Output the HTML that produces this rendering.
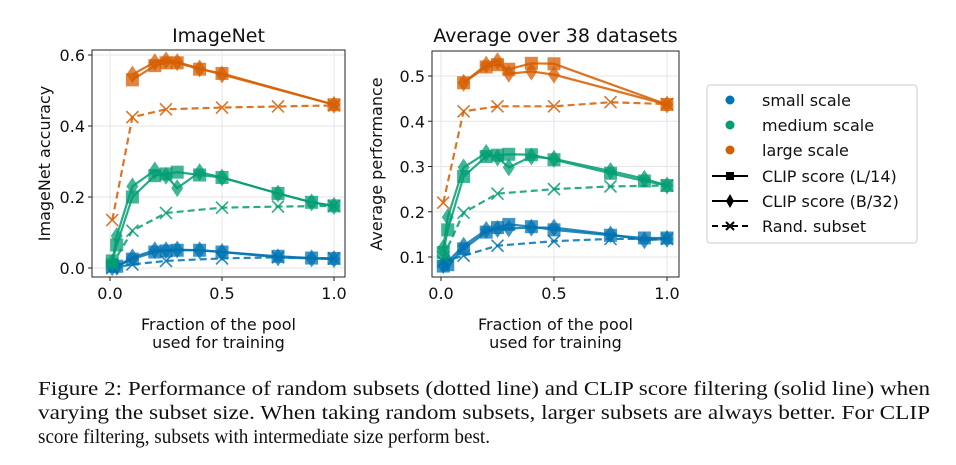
<!DOCTYPE html>
<html><head><meta charset="utf-8"><style>
body{margin:0;background:#fff;width:956px;height:460px;overflow:hidden}
svg text{font-family:"DejaVu Sans","Liberation Sans",sans-serif;fill:#111}
.cap{font-family:"Liberation Serif",serif !important;font-size:20px}
</style></head><body>
<svg id="fig" width="956" height="460" xmlns="http://www.w3.org/2000/svg">
<g id="legend">
<rect x="707" y="85" width="210" height="158" rx="3" fill="#fff" stroke="#ccc" stroke-width="1"/>
<circle cx="730" cy="100" r="4.5" fill="#0173b2"/><text x="762" y="106" font-size="16">small scale</text>
<circle cx="730" cy="125" r="4.5" fill="#029e73"/><text x="762" y="131" font-size="16">medium scale</text>
<circle cx="730" cy="150" r="4.5" fill="#d55e00"/><text x="762" y="156" font-size="16">large scale</text>
<line x1="712" y1="176" x2="748" y2="176" stroke="#000" stroke-width="2"/><rect x="726" y="172" width="8" height="8" fill="#000"/><text x="762" y="182" font-size="16">CLIP score (L/14)</text>
<line x1="712" y1="201" x2="748" y2="201" stroke="#000" stroke-width="2"/><polygon points="730,194 734,201 730,208 726,201" fill="#000"/><text x="762" y="207" font-size="16">CLIP score (B/32)</text>
<line x1="712" y1="226" x2="748" y2="226" stroke="#000" stroke-width="2" stroke-dasharray="6,4"/><path d="M726,222 L734,230 M734,222 L726,230" stroke="#000" stroke-width="2"/><text x="762" y="232" font-size="16">Rand. subset</text>
</g>
<g>
<text class="cap" x="38" y="395" textLength="892" lengthAdjust="spacingAndGlyphs">Figure 2: Performance of random subsets (dotted line) and CLIP score filtering (solid line) when</text>
<text class="cap" x="38" y="419" textLength="892" lengthAdjust="spacingAndGlyphs">varying the subset size. When taking random subsets, larger subsets are always better. For CLIP</text>
<text class="cap" x="38" y="443" textLength="452" lengthAdjust="spacingAndGlyphs">score filtering, subsets with intermediate size perform best.</text>
</g>
</svg>
<script>
const xClip=[0.01,0.03,0.1,0.2,0.25,0.3,0.4,0.5,0.75,0.9,1.0];
const xLarge=[0.1,0.2,0.25,0.3,0.4,0.5,1.0];
const xRand=[0.01,0.1,0.25,0.5,0.75,1.0];
// ImageNet
const inSmallL=[0.005,0.005,0.025,0.045,0.048,0.05,0.05,0.045,0.033,0.028,0.027];
const inSmallB=[0.002,0.004,0.03,0.05,0.05,0.052,0.05,0.045,0.03,0.027,0.025];
const inSmallR=[0.0,0.01,0.02,0.027,0.03,0.027];
const inMedL=[0.02,0.065,0.2,0.26,0.265,0.27,0.262,0.255,0.21,0.185,0.175];
const inMedB=[0.015,0.09,0.23,0.275,0.26,0.225,0.27,0.255,0.21,0.185,0.175];
const inMedR=[0.01,0.105,0.155,0.17,0.173,0.175];
const inLargeL=[0.53,0.57,0.578,0.578,0.56,0.548,0.46];
const inLargeB=[0.545,0.58,0.585,0.58,0.562,0.545,0.46];
const inLargeR=[0.135,0.425,0.447,0.452,0.455,0.458];
// Average
const avSmallL=[0.08,0.083,0.118,0.155,0.165,0.172,0.167,0.16,0.148,0.142,0.142];
const avSmallB=[0.082,0.09,0.125,0.16,0.162,0.163,0.165,0.165,0.15,0.137,0.14];
const avSmallR=[0.09,0.103,0.125,0.135,0.14,0.14];
const avMedL=[0.11,0.16,0.278,0.322,0.325,0.327,0.326,0.315,0.285,0.268,0.258];
const avMedB=[0.12,0.188,0.298,0.33,0.32,0.298,0.322,0.317,0.29,0.273,0.258];
const avMedR=[0.1,0.198,0.24,0.25,0.256,0.258];
const avLargeL=[0.485,0.52,0.525,0.515,0.528,0.527,0.437];
const avLargeB=[0.485,0.525,0.533,0.505,0.51,0.503,0.437];
const avLargeR=[0.22,0.422,0.433,0.433,0.442,0.438];
const inTicks=[0.0,0.2,0.4,0.6];
const avTicks=[0.1,0.2,0.3,0.4,0.5];
const xTicks=[0.0,0.5,1.0];

const NS="http://www.w3.org/2000/svg";
const svg=document.getElementById('fig');
const C={s:'#0173b2',m:'#029e73',l:'#d55e00'};
function el(p,t,a){const e=document.createElementNS(NS,t);for(const k in a)e.setAttribute(k,a[k]);p.appendChild(e);return e;}

function panel(cfg){
  const g=el(svg,'g',{});
  
  
  const X=v=>cfg.x0+(cfg.x1-cfg.x0)*v;
  const Y=v=>cfg.y0+(cfg.y1-cfg.y0)*(v-cfg.v0)/(cfg.v1-cfg.v0);
  xTicks.forEach(t=>el(g,'line',{x1:X(t),x2:X(t),y1:cfg.top,y2:cfg.bot,stroke:'#e6e6e6','stroke-width':1}));
  cfg.ticks.forEach(t=>el(g,'line',{x1:cfg.left,x2:cfg.right,y1:Y(t),y2:Y(t),stroke:'#e6e6e6','stroke-width':1}));
  const ser=[
    [xClip,cfg.d.sL,'s','sq',false],[xClip,cfg.d.sB,'s','di',false],[xRand,cfg.d.sR,'s','x',true],
    [xClip,cfg.d.mL,'m','sq',false],[xClip,cfg.d.mB,'m','di',false],[xRand,cfg.d.mR,'m','x',true],
    [xLarge,cfg.d.lL,'l','sq',false],[xLarge,cfg.d.lB,'l','di',false],[xRand,cfg.d.lR,'l','x',true]];
  ser.forEach(([xs,ys,c,m,dash],i)=>{
    const sg=el(g,'g',{});
    
    
    const pts=xs.map((x,j)=>X(x)+','+Y(ys[j])).join(' ');
    const pl=el(sg,'polyline',{points:pts,fill:'none',stroke:C[c],'stroke-width':2.2,'stroke-opacity':0.85});
    if(dash)pl.setAttribute('stroke-dasharray','7,4');
    xs.forEach((x,j)=>{
      const px=X(x),py=Y(ys[j]);
      let mk;
      if(m==='sq')mk=el(sg,'rect',{x:px-6.5,y:py-6.5,width:13,height:13,fill:C[c],'fill-opacity':0.75});
      else if(m==='di')mk=el(sg,'polygon',{points:`${px},${py-9} ${px+6},${py} ${px},${py+9} ${px-6},${py}`,fill:C[c],'fill-opacity':0.75});
      else mk=el(sg,'path',{d:`M${px-6},${py-6}L${px+6},${py+6}M${px+6},${py-6}L${px-6},${py+6}`,stroke:C[c],'stroke-width':1.6,'stroke-opacity':0.85});
      
      
    });
  });
  el(g,'rect',{x:cfg.left,y:cfg.top,width:cfg.right-cfg.left,height:cfg.bot-cfg.top,fill:'none',stroke:'#222','stroke-width':1});
  xTicks.forEach(t=>{
    el(g,'line',{x1:X(t),x2:X(t),y1:cfg.bot,y2:cfg.bot+4,stroke:'#222'});
    const tx=el(g,'text',{x:X(t),y:cfg.bot+22,'font-size':16,'text-anchor':'middle'});tx.textContent=t.toFixed(1);
    
    
  });
  cfg.ticks.forEach(t=>{
    el(g,'line',{x1:cfg.left-4,x2:cfg.left,y1:Y(t),y2:Y(t),stroke:'#222'});
    const tx=el(g,'text',{x:cfg.left-7,y:Y(t)+6,'font-size':16,'text-anchor':'end'});tx.textContent=t.toFixed(1);
    
    
  });
  const cx=(cfg.left+cfg.right)/2;
  const ti=el(g,'text',{x:cx,y:42,'font-size':19,'text-anchor':'middle'});ti.textContent=cfg.title;
  
  
  const l1=el(g,'text',{x:cx,y:330,'font-size':16,'text-anchor':'middle'});l1.textContent='Fraction of the pool';
  
  
  const l2=el(g,'text',{x:cx,y:348,'font-size':16,'text-anchor':'middle'});l2.textContent='used for training';
  
  
  const yl=el(g,'text',{x:0,y:0,'font-size':16,'text-anchor':'middle',transform:`translate(${cfg.ylx},${(cfg.top+cfg.bot)/2}) rotate(-90)`});yl.textContent=cfg.ylabel;
  
  
}
panel({name:'imagenet-chart',title:'ImageNet',ylabel:'ImageNet accuracy',ylx:50,left:92,right:345,top:50,bot:277,x0:110,x1:334,y0:268,y1:55,v0:0,v1:0.6,ticks:inTicks,
 d:{sL:inSmallL,sB:inSmallB,sR:inSmallR,mL:inMedL,mB:inMedB,mR:inMedR,lL:inLargeL,lB:inLargeB,lR:inLargeR}});
panel({name:'average-chart',title:'Average over 38 datasets',ylabel:'Average performance',ylx:382,left:432,right:679,top:51,bot:277,x0:441,x1:667,y0:257,y1:76,v0:0.1,v1:0.5,ticks:avTicks,
 d:{sL:avSmallL,sB:avSmallB,sR:avSmallR,mL:avMedL,mB:avMedB,mR:avMedR,lL:avLargeL,lB:avLargeB,lR:avLargeR}});
</script>
</body></html>
